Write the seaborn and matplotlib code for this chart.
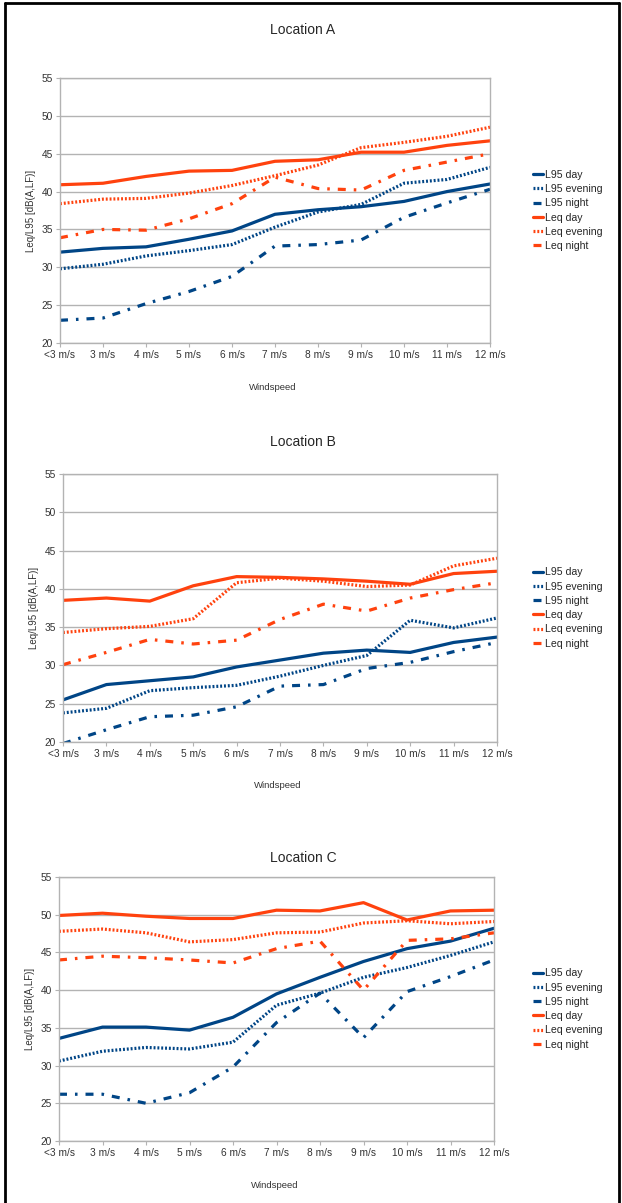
import matplotlib
matplotlib.use('Agg')
import matplotlib.pyplot as plt
import seaborn as sns
import pandas as pd

sns.set_style('white')
plt.rcParams['font.family'] = ['Liberation Sans Narrow', 'Liberation Sans', 'DejaVu Sans']

windspeed = ['<3 m/s', '3 m/s', '4 m/s', '5 m/s', '6 m/s', '7 m/s',
             '8 m/s', '9 m/s', '10 m/s', '11 m/s', '12 m/s']
series_names = ['L95 day', 'L95 evening', 'L95 night',
                'Leq day', 'Leq evening', 'Leq night']

loc_a = {
    'L95 day': [32, 32.5, 32.7, 33.7, 34.8, 37, 37.6, 38, 38.7, 40, 41],
    'L95 evening': [29.8, 30.4, 31.5, 32.2, 33, 35.3, 37.3, 38.3, 41.1, 41.6, 43.2],
    'L95 night': [23, 23.3, 25.2, 26.8, 28.8, 32.8, 33, 33.6, 36.6, 38.5, 40.3],
    'Leq day': [40.9, 41.1, 42, 42.7, 42.8, 44, 44.2, 45.2, 45.2, 46.1, 46.7],
    'Leq evening': [38.4, 39, 39.1, 39.8, 40.8, 42.1, 43.5, 45.8, 46.5, 47.3, 48.5],
    'Leq night': [33.9, 35, 34.9, 36.4, 38.4, 41.9, 40.4, 40.2, 42.8, 43.9, 45],
}
loc_b = {
    'L95 day': [25.5, 27.5, 28, 28.5, 29.8, 30.7, 31.6, 32, 31.7, 33, 33.7],
    'L95 evening': [23.8, 24.4, 26.7, 27.1, 27.4, 28.6, 30, 31.3, 35.9, 34.9, 36.2],
    'L95 night': [19.8, 21.6, 23.3, 23.5, 24.6, 27.3, 27.5, 29.6, 30.4, 31.8, 33],
    'Leq day': [38.5, 38.8, 38.4, 40.4, 41.6, 41.5, 41.3, 41, 40.6, 42, 42.3],
    'Leq evening': [34.3, 34.8, 35.1, 36.1, 40.8, 41.4, 41, 40.3, 40.5, 43, 44],
    'Leq night': [30.1, 31.7, 33.4, 32.8, 33.3, 36, 38, 37.1, 38.8, 39.9, 40.8],
}
loc_c = {
    'L95 day': [33.6, 35.1, 35.1, 34.7, 36.4, 39.5, 41.7, 43.8, 45.5, 46.5, 48.2],
    'L95 evening': [30.6, 31.9, 32.4, 32.2, 33.1, 38, 39.6, 41.7, 43, 44.6, 46.4],
    'L95 night': [26.2, 26.2, 25, 26.4, 29.8, 35.7, 39.6, 33.7, 39.8, 41.8, 44],
    'Leq day': [49.9, 50.2, 49.8, 49.5, 49.5, 50.6, 50.5, 51.6, 49.3, 50.5, 50.6],
    'Leq evening': [47.8, 48.1, 47.6, 46.4, 46.7, 47.6, 47.7, 48.9, 49.2, 48.8, 49.1],
    'Leq night': [44, 44.5, 44.3, 44, 43.6, 45.5, 46.5, 40, 46.6, 46.8, 47.6],
}

blue = '#004586'
orange = '#ff420e'
styles = {
    'L95 day': (blue, '-'),
    'L95 evening': (blue, (0, (0.6, 0.6))),
    'L95 night': (blue, (0, (2.5, 2.5, 0.8, 2.5))),
    'Leq day': (orange, '-'),
    'Leq evening': (orange, (0, (0.6, 0.6))),
    'Leq night': (orange, (0, (2.5, 2.5, 0.8, 2.5))),
}

W, H = 622, 1203
fig = plt.figure(figsize=(W / 100, H / 100), dpi=100)

# panel boxes in pixels: left, right, top, bottom, title y, xlabel y
panels = [
    ('Location A', loc_a, 60, 490, 78, 343, 30, 388),
    ('Location B', loc_b, 63, 497, 474, 742, 442, 785),
    ('Location C', loc_c, 59, 494, 877, 1141, 858, 1185),
]

for title, data, l, r, t, b, ty, xly in panels:
    ax = fig.add_axes([l / W, (H - b) / H, (r - l) / W, (b - t) / H])
    df = pd.DataFrame(data)
    df['pos'] = range(len(windspeed))
    for name in series_names:
        color, ls = styles[name]
        sns.lineplot(x='pos', y=name, data=df, ax=ax, color=color,
                     linestyle=ls, linewidth=2.3, label=name)
    ax.set_xlim(0, len(windspeed) - 1)
    ax.set_ylim(20, 55)
    ax.set_yticks(range(20, 56, 5))
    ax.set_xticks(range(len(windspeed)))
    ax.set_xticklabels(windspeed)
    ax.tick_params(axis='both', labelsize=7.3, length=3, color='#b3b3b3',
                   colors='#333333', pad=2)
    ax.tick_params(axis='both', which='both', bottom=True, left=True)
    ax.yaxis.grid(True, color='#b3b3b3', linewidth=1)
    for s in ax.spines.values():
        s.set_color('#b3b3b3')
        s.set_linewidth(1)
    ax.set_xlabel('')
    ax.set_ylabel('Leq/L95 [dB(A,LF)]', fontsize=7, color='#333333', labelpad=4)
    fig.text(303 / W, 1 - ty / H, title, ha='center', va='center', fontsize=10)
    fig.text(((l + r) / 2 - 2) / W, 1 - xly / H, 'Windspeed', ha='center',
             va='center', fontsize=6.8, color='#333333')
    mid = (t + b) / 2
    ax.legend(loc='center left', bbox_to_anchor=(528 / W, 1 - mid / H),
              bbox_transform=fig.transFigure, frameon=False, fontsize=7.6,
              handlelength=0.9, handletextpad=0.2, labelspacing=0.4,
              borderpad=0)

# outer frame of the page
fig.add_artist(plt.Line2D([5 / W, 5 / W], [0, 1 - 3 / H], color='black', lw=2,
                          transform=fig.transFigure))
fig.add_artist(plt.Line2D([5 / W, 619 / W], [1 - 3 / H, 1 - 3 / H], color='black',
                          lw=2, transform=fig.transFigure))
fig.add_artist(plt.Line2D([619 / W, 619 / W], [0, 1 - 3 / H], color='black', lw=2,
                          transform=fig.transFigure))

plt.savefig('out.png', dpi=100)
